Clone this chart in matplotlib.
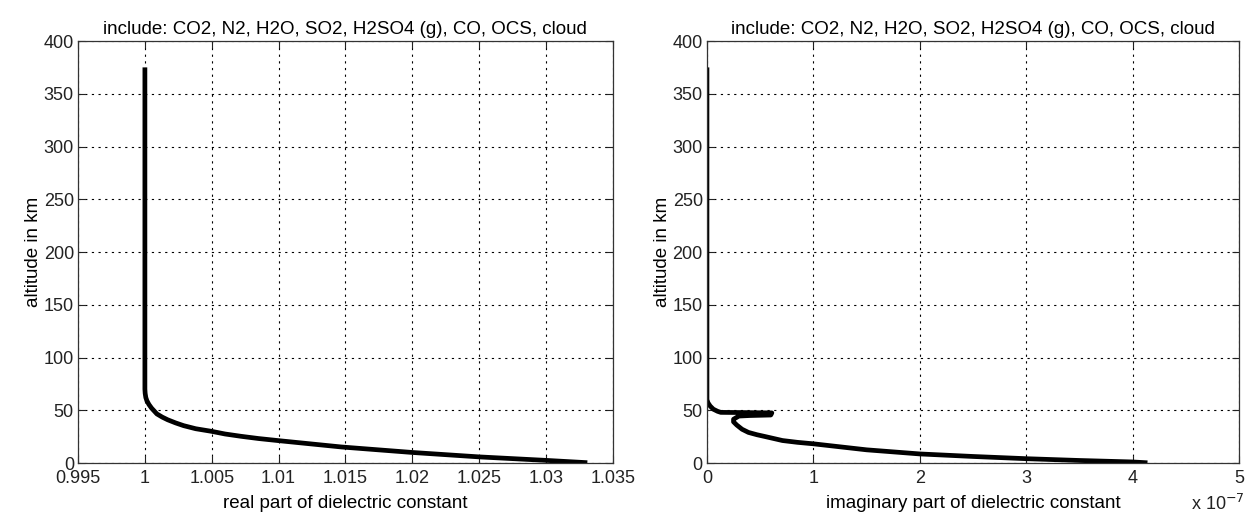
import matplotlib.pyplot as plt
import numpy as np

plt.rcParams['font.family'] = ['Liberation Sans', 'DejaVu Sans']

title = 'include: CO2, N2, H2O, SO2, H2SO4 (g), CO, OCS, cloud'

# real part profile (x, altitude km)
real_x = [1.0, 1.0, 1.00002, 1.00007, 1.00015, 1.0003, 1.0005, 1.0009, 1.0013, 1.0017,
          1.0023, 1.0029, 1.0038, 1.005, 1.006, 1.0072, 1.0085, 1.010, 1.0147, 1.020,
          1.025, 1.030, 1.0331]
real_alt = [375, 70, 66, 62, 59, 55.5, 52, 46.5, 43.5, 41, 38, 35.4, 32.5, 30, 27.5,
            25.3, 23.2, 21.2, 15.2, 10, 5.8, 2.5, 0.3]

# imaginary part profile, units of 1e-7
imag_x = [0.0, 0.0, 0.01, 0.03, 0.06, 0.1, 0.13, 0.35, 0.61, 0.6, 0.4, 0.3, 0.25, 0.25,
          0.28, 0.33, 0.39, 0.47, 0.55, 0.71, 0.85, 1.0, 1.5, 2.0, 2.5, 3.0, 3.5, 4.0, 4.14]
imag_alt = [375, 60, 57, 54, 51, 49, 48, 47.8, 47.5, 45.5, 45, 44.5, 41.5, 39,
            36, 32, 29, 26.8, 25, 21.3, 19.6, 18.2, 12.5, 8.6, 6.2, 4.1, 2.4, 1.0, 0.2]

real_ticks = [0.995, 1.0, 1.005, 1.01, 1.015, 1.02, 1.025, 1.03, 1.035]
real_labels = ['0.995', '1', '1.005', '1.01', '1.015', '1.02', '1.025', '1.03', '1.035']
imag_ticks = [0, 1, 2, 3, 4, 5]
alt_ticks = list(range(0, 401, 50))

fig = plt.figure(figsize=(12.53, 5.2), dpi=100)
ax1 = fig.add_axes([0.0623, 0.1096, 0.4267, 0.8115])
ax2 = fig.add_axes([0.5642, 0.1096, 0.4246, 0.8115])

def style(ax):
    ax.set_ylim(0, 400)
    ax.set_yticks(alt_ticks)
    ax.grid(True, color='black', linestyle=(0, (2, 4)), linewidth=0.8)
    ax.tick_params(direction='in', labelsize=13, colors='#222222', length=5,
                   top=True, right=True, pad=3)
    ax.tick_params(axis='x', pad=5)
    for s in ax.spines.values():
        s.set_color('#333333')
        s.set_linewidth(0.9)
    ax.set_ylabel('altitude in km', fontsize=13.5, labelpad=1)
    ax.set_title(title, fontsize=13.5, pad=5)

ax1.plot(real_x, real_alt, color='black', linewidth=3.4, solid_capstyle='butt',
         solid_joinstyle='round')
ax1.set_xlim(0.995, 1.035)
ax1.set_xticks(real_ticks)
ax1.set_xticklabels(real_labels)
ax1.set_xlabel('real part of dielectric constant', fontsize=13.5, labelpad=6)
style(ax1)

ax2.plot(imag_x, imag_alt, color='black', linewidth=3.4, solid_capstyle='butt',
         solid_joinstyle='round')
ax2.set_xlim(0, 5)
ax2.set_xticks(imag_ticks)
ax2.set_xlabel('imaginary part of dielectric constant', fontsize=13.5, labelpad=6)
style(ax2)
fig.text(0.972, 0.02, r'x 10$^{-7}$', fontsize=13, ha='center', color='#222222')

fig.savefig('out.png', dpi=100)
